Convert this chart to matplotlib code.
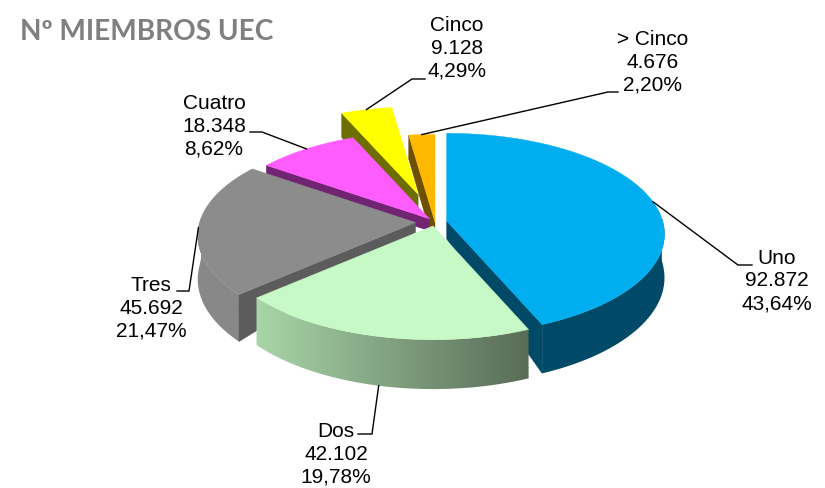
import numpy as np
import matplotlib
matplotlib.use('Agg')
import matplotlib.pyplot as plt
from matplotlib.colors import LinearSegmentedColormap
from matplotlib.patches import Polygon

# Chart data.
categories = ['Uno', 'Dos', 'Tres', 'Cuatro', 'Cinco', '> Cinco']
members = [92872, 42102, 45692, 18348, 9128, 4676]
percents = [43.64, 19.78, 21.47, 8.62, 4.29, 2.20]

# Slice styles, same order as the categories.
topColors = ['#00AEEF', '#C6F9C6', '#8C8C8C', '#FF5CFF', '#FFFF00', '#FFB900']
wallColors = ['#004A68', '#5A6E58', '#5C5C5C', '#702472', '#6E6E00', '#6E5000']
rimLeft = ['#004A68', '#A9D6A9', '#888888', '#702472', '#6E6E00', '#6E5000']
rimRight = ['#004A68', '#586B56', '#6A6A6A', '#702472', '#6E6E00', '#6E5000']
explode = [0.055, 0.04, 0.09, 0.04, 0.29, 0.0]
baseDepth = [18, 15, 10, 12, 27, 27]
drawOrder = [4, 5, 3, 2, 0, 1]

# Label centres and the leader elbow (both in pixels).
labelX = [777, 336, 151, 214, 457, 653]
labelY = [281, 454, 308, 126, 48, 62]
elbowX = [[738, 752], [372, 358], [189, 177], [262, 250], [412, 425], [608, 618]]
elbowY = [265, 434, 291, 132, 79, 92]

# Projection of the pie plane onto the picture.
centerX, centerY = 435, 222
radiusX, radiusY = 216, 99
perspective = 0.13
frontDepth = 43


def project(r, angle):
    """Project a polar point of the unit pie, angle clockwise from the back."""
    u = r * np.sin(angle)
    v = -r * np.cos(angle)
    s = 1 / (1 - perspective * v)
    return radiusX * u * s, radiusY * v * s, v, s


def depth(i, r, angle):
    """Height of the pie wall under a point, thin at the back and the middle."""
    x, y, v, s = project(r, angle)
    return s * (baseDepth[i] + (frontDepth - baseDepth[i]) * r * np.clip((v + 0.6) / 0.6, 0, 1))


def draw_slice(ax, i, start, end):
    zorder = 2 + drawOrder.index(i)
    mid = (start + end) / 2
    apexX = centerX + radiusX * explode[i] * np.sin(mid)
    apexY = centerY - radiusY * explode[i] * np.cos(mid)
    angles = np.linspace(start, end, 120)
    rimX, rimY, rimV, _ = project(1.0, angles)
    rimX = apexX + rimX
    rimY = apexY + rimY
    rimDepth = depth(i, 1.0, angles)

    # The rim, one outline filled with a left to right shading.
    front = rimV > -0.05
    if front.any():
        outlineX = np.r_[rimX[front], rimX[front][::-1]]
        outlineY = np.r_[rimY[front], (rimY + rimDepth)[front][::-1]]
        outline = Polygon(np.c_[outlineX, outlineY], closed=True, facecolor='none', edgecolor='none',
                          transform=ax.transData)
        ax.add_patch(outline)
        shade = LinearSegmentedColormap.from_list('rim', [rimLeft[i], rimRight[i]])
        ramp = np.clip((np.arange(825) - 255) / 275, 0, 1)[None, :]
        image = ax.imshow(ramp, cmap=shade, vmin=0, vmax=1, extent=(0, 825, 488, 0),
                          aspect='auto', zorder=zorder, interpolation='bilinear')
        image.set_clip_path(outline)

    # The cut faces that look towards the viewer.
    for edge, normal in [(start, start - np.pi / 2), (end, end + np.pi / 2)]:
        if -np.cos(normal) <= 0.01:
            continue
        edgeX, edgeY, _, _ = project(1.0, edge)
        ax.fill([apexX, apexX + edgeX, apexX + edgeX, apexX],
                [apexY, apexY + edgeY, apexY + edgeY + depth(i, 1.0, edge), apexY + depth(i, 0.0, edge)],
                color=wallColors[i], lw=0.3, zorder=zorder)

    # The top face.
    ax.fill(np.r_[apexX, rimX], np.r_[apexY, rimY], color=topColors[i], lw=0.3, zorder=zorder)

    # Where the leader line touches the slice.
    midX, midY, midV, _ = project(1.0, mid)
    anchorY = apexY + midY
    if midV > 0.5:
        anchorY += depth(i, 1.0, mid)
    return apexX + midX, anchorY


def main():
    fig = plt.figure(figsize=(8.25, 4.88), dpi=100)
    ax = fig.add_axes([0, 0, 1, 1])
    ax.set_xlim(0, 825)
    ax.set_ylim(488, 0)
    ax.set_autoscale_on(False)
    ax.axis('off')

    fractions = np.array(members) / sum(members)
    edges = np.r_[0, np.cumsum(fractions)] * 2 * np.pi

    for i in range(len(categories)):
        anchorX, anchorY = draw_slice(ax, i, edges[i], edges[i + 1])

        # Leader line with its short horizontal tail.
        ax.plot([anchorX, elbowX[i][0], elbowX[i][1]], [anchorY, elbowY[i], elbowY[i]],
                color='black', lw=1.0, zorder=20, solid_joinstyle='miter')

        number = f'{members[i]:,}'.replace(',', '.')
        percent = f'{percents[i]:.2f}'.replace('.', ',') + '%'
        ax.text(labelX[i], labelY[i], f'{categories[i]}\n{number}\n{percent}', ha='center', va='center',
                family='Liberation Sans', fontsize=15, linespacing=1.24, color='black', zorder=21)

    ax.text(20, 32, 'Nº MIEMBROS UEC', ha='left', va='center', family='Lato', weight='bold',
            fontsize=20.2, color='#7F7F7F')

    fig.savefig('out.png', dpi=100, facecolor='white')


if __name__ == '__main__':
    main()
